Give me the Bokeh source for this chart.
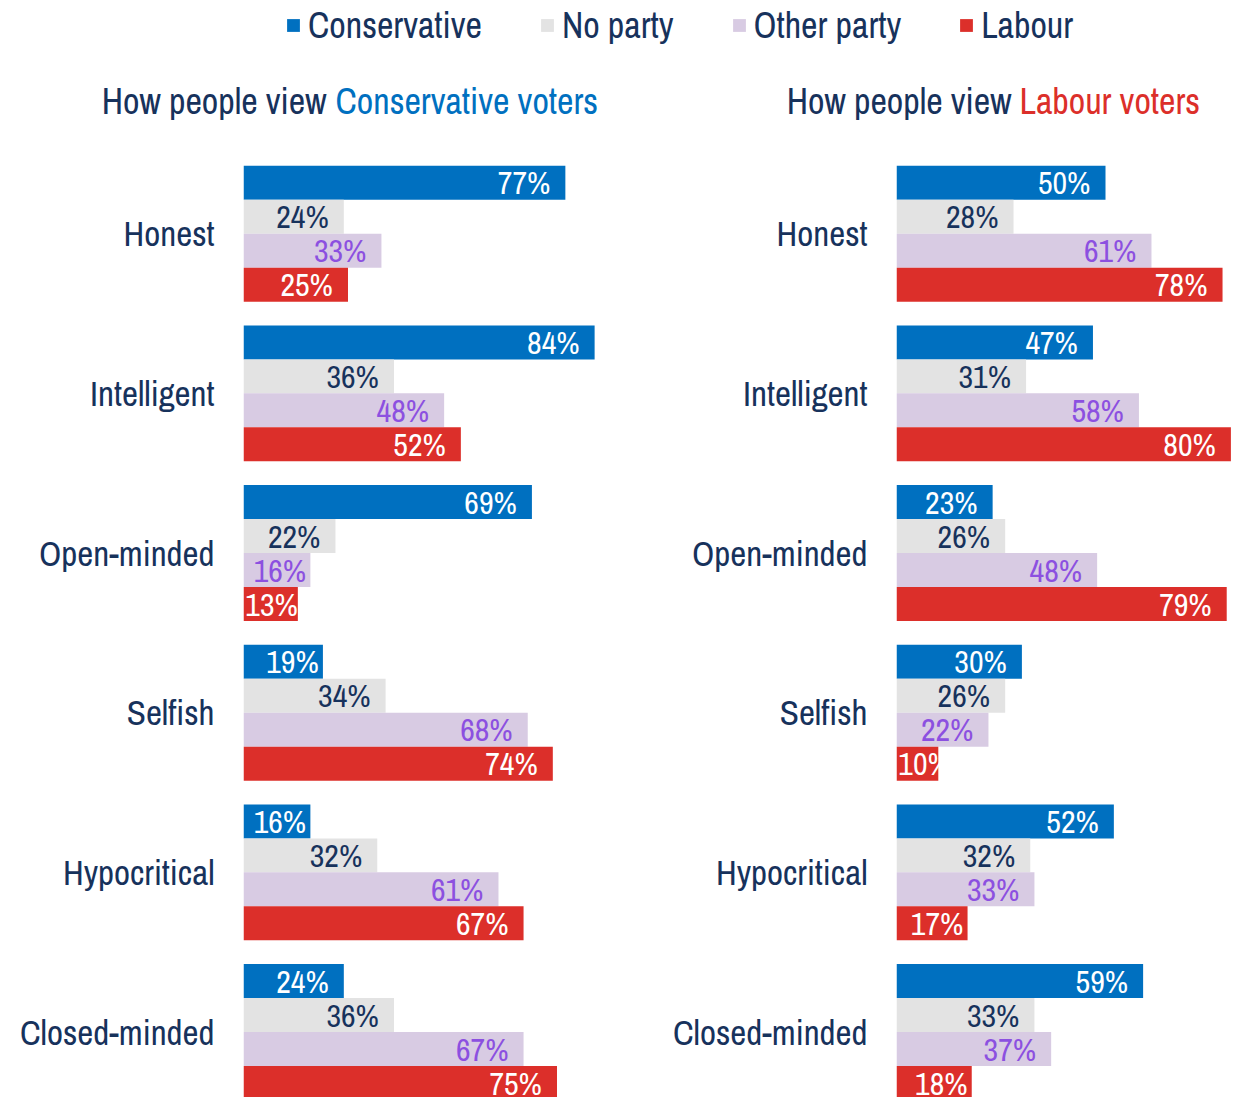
import numpy as np
from bokeh.plotting import figure
from bokeh.models import Range1d, FixedTicker, Legend, LegendItem, Label
from bokeh.layouts import column, row
from bokeh.core.properties import value
from bokeh.embed import file_html
from bokeh.resources import INLINE

# ---- data ----
traits = ["Honest", "Intelligent", "Open-minded", "Selfish", "Hypocritical", "Closed-minded"]
series = ["Conservative", "No party", "Other party", "Labour"]

# How people view Conservative voters
con_view_con = [77, 84, 69, 19, 16, 24]
nop_view_con = [24, 36, 22, 34, 32, 36]
oth_view_con = [33, 48, 16, 68, 61, 67]
lab_view_con = [25, 52, 13, 74, 67, 75]

# How people view Labour voters
con_view_lab = [50, 47, 23, 30, 52, 59]
nop_view_lab = [28, 31, 26, 26, 32, 33]
oth_view_lab = [61, 58, 48, 22, 33, 37]
lab_view_lab = [78, 80, 79, 10, 17, 18]

# ---- styles ----
FONT = "'Archivo Narrow', 'Roboto Condensed', 'DejaVu Sans Condensed', sans-serif"
NAVY = "#17325c"
BLUE = "#0070c0"
GRAY = "#e3e3e3"
LILAC = "#d8cbe3"
RED = "#dc2f2a"
PURPLE_TXT = "#8c50e0"
bar_colors = [BLUE, GRAY, LILAC, RED]
txt_colors = ["white", NAVY, PURPLE_TXT, "white"]
PX_PER_PCT = 4.18
BAR_H = 0.2128
PANEL_H = 958
HDR_H = 139


def panel(vals_list, width, border_left):
    p = figure(width=width, height=PANEL_H,
               x_range=Range1d(0, (width - border_left) / PX_PER_PCT),
               y_range=Range1d(5.41, -0.59),
               output_backend="svg", toolbar_location=None,
               min_border_left=border_left, min_border_right=0,
               min_border_top=0, min_border_bottom=0)
    idx = np.arange(len(traits))
    for k, vals in enumerate(vals_list):
        v = np.array(vals, dtype=float)
        y = idx + (k - 1.5) * BAR_H
        p.hbar(y=y, left=0, right=v, height=BAR_H,
               fill_color=bar_colors[k], line_color=None)
        off = np.where(v >= 20, 3.6, 1.0)
        lx = np.maximum(v - off, 13)
        p.text(x=lx, y=y, text=[f"{int(a)}%" for a in vals],
               text_align="right", text_baseline="middle",
               text_color=txt_colors[k], text_font=value(FONT),
               text_font_size="32px")
    p.xaxis.visible = False
    p.grid.visible = False
    p.outline_line_color = None
    ax = p.yaxis[0]
    ax.ticker = FixedTicker(ticks=list(range(len(traits))))
    ax.major_label_overrides = {i: t for i, t in enumerate(traits)}
    ax.major_label_text_font = FONT
    ax.major_label_text_font_size = "35px"
    ax.major_label_text_color = NAVY
    ax.axis_line_color = None
    ax.major_tick_line_color = None
    ax.minor_tick_line_color = None
    ax.major_tick_in = 0
    ax.major_tick_out = 0
    ax.major_label_standoff = 29
    return p


left = panel([con_view_con, nop_view_con, oth_view_con, lab_view_con], 659, 243)
right = panel([con_view_lab, nop_view_lab, oth_view_lab, lab_view_lab], 577, 237)

# ---- header (legend + titles) ----
hdr = figure(width=1236, height=HDR_H, x_range=Range1d(0, 1236), y_range=Range1d(HDR_H, 0),
             output_backend="svg", toolbar_location=None,
             min_border_left=0, min_border_right=0, min_border_top=0, min_border_bottom=0)
hdr.xaxis.visible = False
hdr.yaxis.visible = False
hdr.grid.visible = False
hdr.outline_line_color = None

items = []
for name, c in zip(series, bar_colors):
    r = hdr.hbar(y=[0], left=[0], right=[0], height=0, fill_color=c, line_color=None)
    items.append(LegendItem(label=name, renderers=[r]))
legend = Legend(items=items, orientation="horizontal", location=(285, 90),
                glyph_width=16, glyph_height=16, label_standoff=7, spacing=57,
                padding=0, margin=0, border_line_color=None, background_fill_alpha=0,
                label_text_font=FONT, label_text_font_size="36px",
                label_text_color=NAVY)
hdr.add_layout(legend)

title_kw = dict(y=100, text_baseline="middle", text_font=FONT, text_font_size="36px")
hdr.add_layout(Label(x=326, text="How people view", text_align="right", text_color=NAVY, **title_kw))
hdr.add_layout(Label(x=335, text="Conservative voters", text_align="left", text_color=BLUE, **title_kw))
hdr.add_layout(Label(x=1011, text="How people view", text_align="right", text_color=NAVY, **title_kw))
hdr.add_layout(Label(x=1019, text="Labour voters", text_align="left", text_color=RED, **title_kw))

layout = column(hdr, row(left, right))
open("out.html", "w").write(file_html(layout, INLINE))
